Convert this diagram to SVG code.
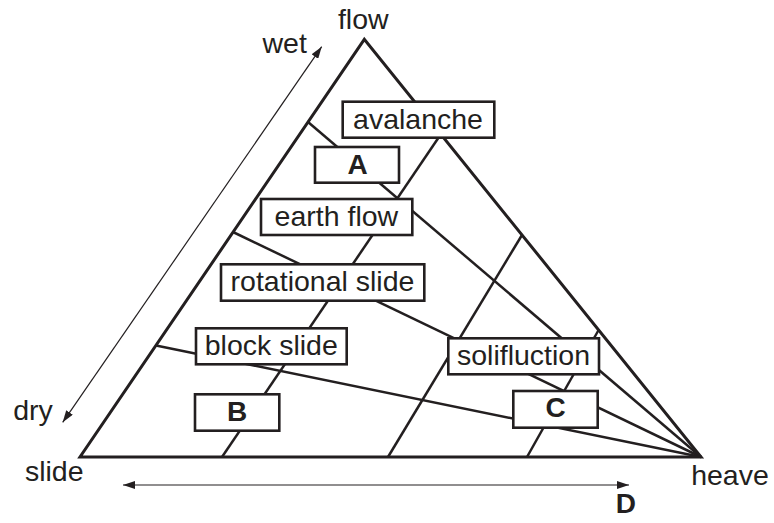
<svg xmlns="http://www.w3.org/2000/svg" width="774" height="523" viewBox="0 0 774 523">
<style>
.t{font-family:"Liberation Sans",Arial,Helvetica,sans-serif;font-size:28.5px;fill:#231f20;text-anchor:middle}
.b{font-weight:bold;font-size:28px}
.edge{fill:none;stroke:#231f20;stroke-width:3;stroke-linejoin:miter}
.ln{fill:none;stroke:#231f20;stroke-width:2.5}
.box{fill:#fff;stroke:#231f20;stroke-width:2.6}
.ax{fill:none;stroke:#231f20;stroke-width:1.2}
</style>
<defs>
<marker id="ah" viewBox="0 0 12 8" refX="12" refY="4" markerWidth="12" markerHeight="8" markerUnits="userSpaceOnUse" orient="auto-start-reverse">
<path d="M0,0 L12,4 L0,8 Z" fill="#231f20"/>
</marker>
</defs>
<rect width="774" height="523" fill="#fff"/>
<g id="connectors">
<line class="ln" x1="308" y1="122" x2="701" y2="457"/>
<line class="ln" x1="233" y1="232" x2="701" y2="457"/>
<line class="ln" x1="156" y1="345.5" x2="701" y2="457"/>
<line class="ln" x1="441" y1="134" x2="222" y2="457"/>
<line class="ln" x1="522" y1="235" x2="388" y2="457"/>
<line class="ln" x1="598.6" y1="330" x2="527" y2="457"/>
<polygon id="triangle" class="edge" points="364.3,39.3 80,457 701,457"/>
<line id="wetdry" class="ax" x1="62.7" y1="422.3" x2="321.7" y2="46.7" marker-start="url(#ah)" marker-end="url(#ah)"/>
<line id="axisD" class="ax" x1="123" y1="485" x2="629" y2="485" marker-start="url(#ah)" marker-end="url(#ah)"/>
</g>
<g id="avalanche"><rect class="box" x="342.7" y="101.7" width="151.6" height="36"/><text class="t" x="418" y="129">avalanche</text></g>
<g id="A"><rect class="box" x="315" y="147" width="84" height="35.7"/><text class="t b" x="357.5" y="174">A</text></g>
<g id="earthflow"><rect class="box" x="261" y="199" width="151.3" height="36"/><text class="t" x="336.4" y="225.7">earth flow</text></g>
<g id="rotational"><rect class="box" x="221" y="264.3" width="203.3" height="36.4"/><text class="t" x="322.5" y="291">rotational slide</text></g>
<g id="blockslide"><rect class="box" x="196" y="328.3" width="150.7" height="36"/><text class="t" x="271.3" y="355">block slide</text></g>
<g id="B"><rect class="box" x="195" y="394.3" width="84.3" height="36.4"/><text class="t b" x="237" y="420.7">B</text></g>
<g id="solifluction"><rect class="box" x="448.3" y="338.3" width="150.7" height="36"/><text class="t" x="523.5" y="365">solifluction</text></g>
<g id="C"><rect class="box" x="513.3" y="391" width="84.4" height="36.7"/><text class="t b" x="555.5" y="417.3">C</text></g>
<g id="labels">
<text class="t" x="363.3" y="29.3">flow</text>
<text class="t" x="284.7" y="53.3">wet</text>
<text class="t" x="33" y="419.5">dry</text>
<text class="t" x="54.2" y="481">slide</text>
<text class="t" x="730" y="485">heave</text>
<text class="t b" x="625.8" y="513.3">D</text>
</g>
</svg>
